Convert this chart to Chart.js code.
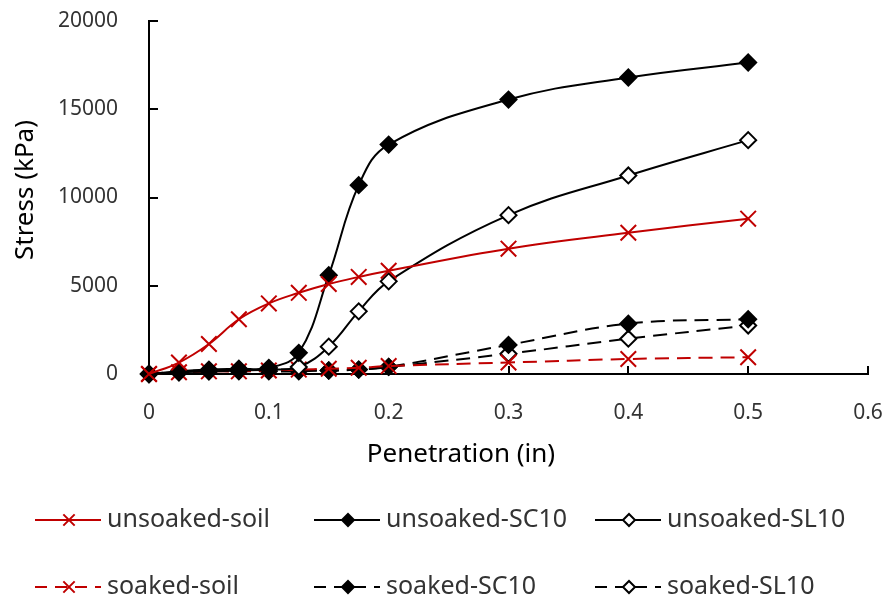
<!DOCTYPE html>
<html>
<head>
<meta charset="utf-8">
<script src="https://cdn.jsdelivr.net/npm/chart.js@4.4.0/dist/chart.umd.min.js"></script>
<style>
  html, body { margin: 0; padding: 0; background: #fff; }
  #wrap { width: 886px; height: 606px; }
</style>
</head>
<body>
<div id="wrap"><canvas id="chart" width="886" height="606"></canvas></div>
<script>
// --- Data ---
const PENETRATION = [0, 0.025, 0.05, 0.075, 0.1, 0.125, 0.15, 0.175, 0.2, 0.3, 0.4, 0.5];
const UNSOAKED_SOIL = [0, 650, 1700, 3100, 4000, 4600, 5100, 5500, 5850, 7100, 8000, 8800];
const UNSOAKED_SC10 = [0, 150, 250, 300, 350, 1200, 5600, 10700, 13000, 15550, 16800, 17650];
const UNSOAKED_SL10 = [0, 100, 150, 200, 250, 400, 1550, 3550, 5250, 9000, 11250, 13250];
const SOAKED_SOIL = [0, 100, 150, 150, 200, 250, 300, 350, 450, 650, 850, 950];
const SOAKED_SC10 = [0, 150, 200, 250, 250, 250, 200, 250, 400, 1650, 2850, 3100];
const SOAKED_SL10 = [0, 100, 150, 150, 150, 150, 200, 250, 400, 1150, 2000, 2750];

const X_TICKS = [0, 0.1, 0.2, 0.3, 0.4, 0.5, 0.6];
const Y_TICKS = [0, 5000, 10000, 15000, 20000];

const RED = '#C00000';
const BLACK = '#000000';
const TEXT = '#333333';
const FONT = '"Noto Sans", "Open Sans", sans-serif';

function series(label, values, color, marker, filled, dashed) {
    return {
        label,
        data: values.map((v, i) => ({ x: PENETRATION[i], y: v })),
        borderColor: color,
        borderWidth: 2,
        borderDash: dashed ? [14, 8] : [],
        tension: 0.4,
        fill: false,
        pointStyle: marker,
        pointRadius: marker === 'crossRot' ? 11 : 8,
        pointBorderWidth: 2,
        pointBorderColor: color,
        pointBackgroundColor: filled ? color : '#FFFFFF',
        clip: false
    };
}

const datasets = [
    series('unsoaked-soil', UNSOAKED_SOIL, RED, 'crossRot', true, false),
    series('unsoaked-SC10', UNSOAKED_SC10, BLACK, 'rectRot', true, false),
    series('unsoaked-SL10', UNSOAKED_SL10, BLACK, 'rectRot', false, false),
    series('soaked-soil', SOAKED_SOIL, RED, 'crossRot', true, true),
    series('soaked-SC10', SOAKED_SC10, BLACK, 'rectRot', true, true),
    series('soaked-SL10', SOAKED_SL10, BLACK, 'rectRot', false, true)
];

// inside tick marks, like the Excel original
const tickMarks = {
    id: 'tickMarks',
    beforeDatasetsDraw(chart) {
        const { ctx, chartArea, scales: { x, y } } = chart;
        ctx.save();
        ctx.strokeStyle = BLACK;
        ctx.lineWidth = 2;
        y.ticks.forEach(t => {
            const py = Math.round(y.getPixelForValue(t.value));
            ctx.beginPath();
            ctx.moveTo(chartArea.left, py);
            ctx.lineTo(chartArea.left + 9, py);
            ctx.stroke();
        });
        x.ticks.forEach(t => {
            const px = Math.round(x.getPixelForValue(t.value));
            ctx.beginPath();
            ctx.moveTo(px, chartArea.bottom);
            ctx.lineTo(px, chartArea.bottom - 8);
            ctx.stroke();
        });
        ctx.restore();
    }
};

// axis titles (x title sits left of the plot centre in the original)
const axisTitles = {
    id: 'axisTitles',
    afterDraw(chart) {
        const { ctx } = chart;
        ctx.save();
        ctx.fillStyle = BLACK;
        ctx.font = `26px ${FONT}`;
        ctx.textAlign = 'center';
        ctx.textBaseline = 'middle';
        ctx.fillText('Penetration (in)', 461, 455);
        ctx.translate(26, 190);
        ctx.rotate(-Math.PI / 2);
        ctx.fillText('Stress (kPa)', 0, 0);
        ctx.restore();
    }
};

// legend: 3 columns x 2 rows, line sample with the marker in the middle
const LEGEND_COLS = [35, 314, 595];
const LEGEND_ROWS = [520, 587];
const bottomLegend = {
    id: 'bottomLegend',
    afterDraw(chart) {
        const { ctx } = chart;
        chart.data.datasets.forEach((ds, i) => {
            const x0 = LEGEND_COLS[i % 3];
            const y0 = LEGEND_ROWS[Math.floor(i / 3)];
            ctx.save();
            ctx.strokeStyle = ds.borderColor;
            ctx.lineWidth = 2;
            ctx.setLineDash(ds.borderDash.length ? [12, 8] : []);
            ctx.beginPath();
            ctx.moveTo(x0, y0);
            ctx.lineTo(x0 + 66, y0);
            ctx.stroke();
            ctx.setLineDash([]);
            ctx.fillStyle = ds.pointBackgroundColor;
            ctx.strokeStyle = ds.pointBorderColor;
            const r = ds.pointStyle === 'crossRot' ? 8 : 6;
            Chart.helpers.drawPoint(ctx, { pointStyle: ds.pointStyle, radius: r, rotation: 0, borderWidth: 2 }, x0 + 34, y0);
            ctx.fillStyle = TEXT;
            ctx.font = `25px ${FONT}`;
            ctx.textAlign = 'left';
            ctx.textBaseline = 'middle';
            ctx.fillText(ds.label, x0 + 72, y0);
            ctx.restore();
        });
    }
};

new Chart(document.getElementById('chart'), {
    type: 'line',
    data: { datasets },
    plugins: [tickMarks, axisTitles, bottomLegend],
    options: {
        responsive: false,
        animation: false,
        layout: { padding: { top: 21, right: 18, left: 0, bottom: 0 } },
        plugins: { legend: { display: false }, tooltip: { enabled: false } },
        scales: {
            x: {
                type: 'linear', min: 0, max: 0.6,
                afterBuildTicks: s => { s.ticks = X_TICKS.map(v => ({ value: v })); },
                afterFit: s => { s.height = 232; s.paddingLeft = 0; s.paddingRight = 0; },
                grid: { display: false },
                border: { display: true, color: BLACK, width: 2 },
                ticks: { color: TEXT, padding: 18, font: { family: FONT, size: 21 }, callback: v => String(Math.round(v * 10) / 10) }
            },
            y: {
                min: 0, max: 20000,
                afterBuildTicks: s => { s.ticks = Y_TICKS.map(v => ({ value: v })); },
                afterFit: s => { s.width = 149; s.paddingTop = 0; s.paddingBottom = 0; },
                grid: { display: false },
                border: { display: true, color: BLACK, width: 2 },
                ticks: { color: TEXT, padding: 23, font: { family: FONT, size: 21 }, callback: v => String(v) }
            }
        }
    }
});
</script>
</body>
</html>
